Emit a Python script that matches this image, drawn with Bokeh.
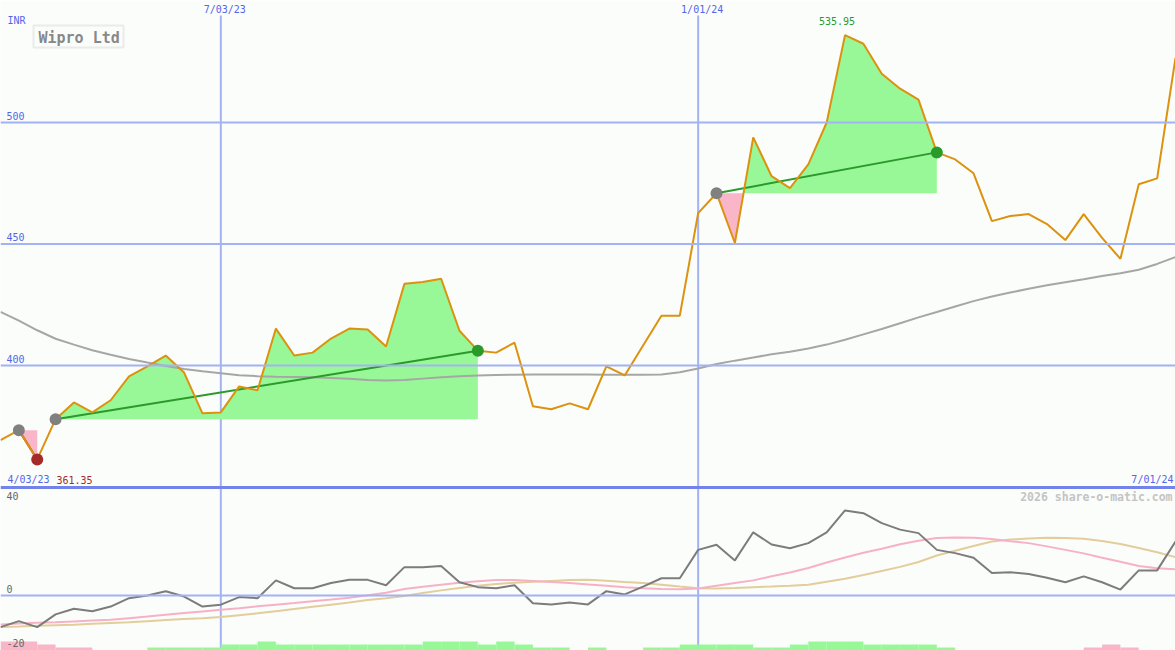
from bokeh.plotting import figure
from bokeh.models import Range1d, Span, Label, BoxAnnotation
from bokeh.embed import file_html
from bokeh.resources import INLINE

# ---- weekly data, Wipro Ltd (INR) ----
close = [369.3, 373.4, 361.35, 377.9, 384.8, 380.7, 385.7, 395.5, 399.6, 404.1,
         397.1, 380.3, 380.7, 391.4, 389.8, 415.2, 404.1, 405.3, 411.1, 415.2,
         414.8, 407.8, 433.6, 434.4, 435.7, 414.3, 406.1, 405.3, 409.4, 383.2,
         382.0, 384.4, 382.0, 399.6, 395.9, 408.2, 420.5, 420.5, 462.7, 470.9,
         450.4, 493.9, 477.9, 473.0, 482.8, 500.0, 535.95, 532.4, 520.1, 513.9,
         509.4, 487.7, 484.8, 479.1, 459.4, 461.5, 462.3, 458.2, 451.6, 462.3,
         452.5, 443.9, 474.6, 477.0, 526.6]

moving_avg = [422.1, 418.5, 414.5, 411.0, 408.6, 406.3, 404.4, 402.7, 401.2, 399.8,
              398.6, 397.6, 396.8, 396.0, 395.6, 395.4, 395.3, 395.2, 394.9, 394.5,
              394.0, 393.8, 394.0, 394.6, 395.2, 395.6, 395.9, 396.1, 396.2, 396.3,
              396.3, 396.3, 396.3, 396.2, 396.2, 396.2, 396.3, 397.2, 398.8, 400.6,
              402.0, 403.3, 404.6, 405.7, 407.0, 408.6, 410.6, 412.8, 415.0, 417.4,
              419.8, 422.0, 424.3, 426.5, 428.4, 430.0, 431.6, 433.0, 434.3, 435.5,
              436.8, 438.0, 439.4, 441.8, 444.6]

momentum = [-11.7, -9.5, -11.7, -7.0, -4.9, -5.8, -4.1, -1.0, 0.0, 1.6,
            -0.4, -4.1, -3.4, -0.6, -1.0, 5.6, 2.7, 2.7, 4.6, 5.8,
            5.8, 3.8, 10.5, 10.5, 10.9, 4.9, 3.1, 2.7, 3.8, -2.9,
            -3.3, -2.6, -3.3, 1.6, 0.4, 3.3, 6.4, 6.4, 16.9, 18.8,
            13.0, 23.4, 18.9, 17.5, 19.4, 23.4, 31.5, 30.5, 26.8, 24.4,
            23.1, 16.9, 15.7, 14.0, 8.3, 8.6, 8.0, 6.6, 4.9, 7.1,
            4.9, 2.2, 9.3, 9.3, 20.0]

momentum_fast = [-10.7, -10.4, -10.1, -9.9, -9.6, -9.3, -9.0, -8.4, -7.8, -7.1,
                 -6.5, -5.9, -5.3, -4.7, -4.0, -3.4, -2.8, -2.1, -1.5, -0.8,
                 0.1, 1.0, 2.4, 3.2, 4.0, 4.7, 5.3, 5.7, 5.7, 5.4,
                 5.0, 4.6, 4.1, 3.6, 3.1, 2.7, 2.4, 2.3, 2.6, 3.6,
                 4.6, 5.6, 7.1, 8.5, 10.2, 12.2, 14.1, 15.8, 17.3, 19.0,
                 20.3, 21.3, 21.5, 21.4, 20.9, 20.1, 19.4, 18.2, 16.9, 15.6,
                 14.0, 12.5, 10.9, 10.1, 9.7]

momentum_slow = [-11.7, -11.5, -11.2, -11.0, -10.8, -10.5, -10.2, -9.9, -9.5, -9.1,
                 -8.7, -8.4, -8.0, -7.3, -6.6, -5.8, -5.0, -4.2, -3.4, -2.6,
                 -1.7, -1.0, -0.2, 0.9, 1.9, 2.8, 3.6, 4.3, 4.7, 5.1,
                 5.4, 5.7, 5.8, 5.5, 5.0, 4.6, 4.0, 3.3, 2.7, 2.6,
                 2.8, 3.1, 3.3, 3.6, 4.0, 5.1, 6.2, 7.6, 9.1, 10.6,
                 12.4, 14.8, 16.6, 18.3, 20.0, 20.7, 21.1, 21.4, 21.3, 21.0,
                 20.2, 19.1, 17.6, 16.0, 14.2]

# weekly flow strength, one bar per week interval (+ buying / - selling)
flow = [-3, -3, -2, -1, -1, 0, 0, 0, 1, 1, 1, 1, 2, 2, 3, 2,
        2, 2, 2, 2, 2, 2, 2, 3, 3, 3, 2, 3, 2, 1, 1, 0,
        1, 0, 0, 1, 1, 2, 2, 2, 2, 1, 1, 2, 3, 3, 3, 2,
        2, 2, 2, 1, 0, 0, 0, 0, 0, 0, 0, -1, -2, -1, 0, 0]

# trend segments (week index of start and end point)
trend_starts = [1, 3, 39]
trend_ends = [2, 26, 51]

price_ticks = [500, 450, 400]
osc_ticks = [40, 0, -20]
date_weeks = [12, 38]
date_labels = ["7/03/23", "1/01/24"]
first_date = "4/03/23"
last_date = "7/01/24"
title = "Wipro Ltd"
currency = "INR"
credit = "2026 share-o-matic.com"

# ---- canvas geometry ----
W, H = 1175, 650
PX_PER_INR = 2.43          # price scale
Y_400 = 365                # pixel row of the 400 line
PRICE_TOP = 400 + Y_400 / PX_PER_INR
PRICE_BOTTOM = 400 - (H - Y_400) / PX_PER_INR
PANEL_SPLIT = 487          # pixel row of the panel divider
PX_PER_OSC = 2.7
Y_ZERO = 595
OSC_TOP = Y_ZERO / PX_PER_OSC
OSC_BOTTOM = -(H - Y_ZERO) / PX_PER_OSC
BAR_PX = 3                 # pixels per flow step
LIFT = 4                   # baseline correction for text

BG = "#fbfdfb"
GRID = "#a3b2f2"
DIVIDER = "#7383ea"
BLUE_TXT = "#5565ea"
ORANGE = "#dc920e"
FILL_UP = "#98f898"
FILL_DN = "#f9b6c9"
FONT = "DejaVu Sans Mono"

weeks = list(range(len(close)))

p = figure(width=W, height=H, output_backend="svg", toolbar_location=None,
           x_range=Range1d(0, len(close) - 1),
           y_range=Range1d(PRICE_BOTTOM, PRICE_TOP),
           x_axis_location=None, y_axis_location=None,
           min_border=0, outline_line_color=None,
           background_fill_color=BG, border_fill_color=BG)
p.grid.visible = False
p.extra_y_ranges = {"osc": Range1d(OSC_BOTTOM, OSC_TOP),
                    "flow": Range1d(0, H / BAR_PX)}

# horizontal grid lines
for t in price_ticks:
    p.add_layout(Span(location=t, dimension="width", line_color=GRID, line_width=2))
p.add_layout(Span(location=0, dimension="width", line_color=GRID, line_width=2,
                  y_range_name="osc"))

# vertical date lines, starting just below their labels
grid_top = PRICE_TOP - 15 / PX_PER_INR
for wk in date_weeks:
    p.segment(x0=wk, x1=wk, y0=PRICE_BOTTOM, y1=grid_top, line_color=GRID, line_width=2)

# panel divider
p.add_layout(Span(location=400 - (PANEL_SPLIT - Y_400) / PX_PER_INR, dimension="width",
                  line_color=DIVIDER, line_width=3))


def split_at_base(xs, ys, base):
    """Insert the crossings with the base level so fills switch colour cleanly."""
    out_x, hi, lo = [], [], []
    for k in range(len(xs)):
        if k > 0:
            a, b = ys[k - 1] - base, ys[k] - base
            if a * b < 0:
                t = a / (a - b)
                out_x.append(xs[k - 1] + t * (xs[k] - xs[k - 1]))
                hi.append(base)
                lo.append(base)
        out_x.append(xs[k])
        hi.append(max(ys[k], base))
        lo.append(min(ys[k], base))
    return out_x, hi, lo


# trend fills
for s, e in zip(trend_starts, trend_ends):
    xs = weeks[s:e + 1]
    ys = close[s:e + 1]
    base = close[s]
    fx, hi, lo = split_at_base(xs, ys, base)
    p.varea(x=fx, y1=[base] * len(fx), y2=hi, fill_color=FILL_UP)
    p.varea(x=fx, y1=lo, y2=[base] * len(fx), fill_color=FILL_DN)

# long moving average
p.line(weeks, moving_avg, line_color="#a6a6a6", line_width=2)

# trend lines
for s, e in zip(trend_starts, trend_ends):
    col = "#2a9a2a" if close[e] >= close[s] else "#a52a2a"
    p.line([s, e], [close[s], close[e]], line_color=col, line_width=2)

# price
p.line(weeks, close, line_color=ORANGE, line_width=2)

# trend markers
p.scatter(trend_starts, [close[i] for i in trend_starts], size=12,
          fill_color="#808080", line_color=None)
end_cols = ["#2a9a2a" if close[e] >= close[s] else "#a52a2a"
            for s, e in zip(trend_starts, trend_ends)]
p.scatter(trend_ends, [close[i] for i in trend_ends], size=12,
          fill_color=end_cols, line_color=None)

# lower panel: flow bars
p.vbar(x=[i + 0.5 for i, f in enumerate(flow) if f != 0], width=1.0,
       bottom=0, top=[abs(f) for f in flow if f != 0],
       fill_color=[FILL_UP if f > 0 else FILL_DN for f in flow if f != 0],
       line_color=None, y_range_name="flow")

# lower panel: momentum and its averages
p.line(weeks, momentum_slow, line_color="#e2cd9b", line_width=2, y_range_name="osc")
p.line(weeks, momentum_fast, line_color="#f7b1c7", line_width=2, y_range_name="osc")
p.line(weeks, momentum, line_color="#7c7c7c", line_width=2, y_range_name="osc")


# ---- texts ----
def lab(text, x, y, color, size="10px", align="left", bold=False, y_offset=0, **kw):
    p.add_layout(Label(x=x, y=y, text=text, text_color=color, text_font=FONT,
                       text_font_size=size, text_align=align,
                       text_baseline="alphabetic", y_offset=y_offset + LIFT,
                       text_font_style="bold" if bold else "normal", **kw))


for t in price_ticks:
    lab(str(t), 6, t, BLUE_TXT, x_units="screen", y_offset=3)
lab(currency, 7, H - 24, BLUE_TXT, x_units="screen", y_units="screen")

for wk, txt in zip(date_weeks, date_labels):
    lab(txt, wk, H - 12.5, BLUE_TXT, align="center", y_units="screen", x_offset=4)
lab(first_date, 7, H - 483, BLUE_TXT, x_units="screen", y_units="screen")
lab(last_date, W - 2, H - 483, BLUE_TXT, align="right", x_units="screen", y_units="screen")

low_i = min(range(len(close)), key=lambda i: close[i])
high_i = max(range(len(close)), key=lambda i: close[i])
lab(f"{close[low_i]:.2f}", 56, H - 483, "#a52a2a", x_units="screen", y_units="screen")
lab(f"{close[high_i]:.2f}", high_i, close[high_i], "#2a9a2a", align="center",
    x_offset=-8, y_offset=10)

for t in osc_ticks:
    off = -12 if t == osc_ticks[0] else 3
    lab(str(t), 6, t, "#666666", x_units="screen", y_range_name="osc", y_offset=off)

lab(credit, W - 3, H - 500, "#c4c4c4", size="11.5px", align="right", bold=True,
    x_units="screen", y_units="screen")

# name box
p.add_layout(BoxAnnotation(left=33, right=123, top=H - 25, bottom=H - 47,
                           left_units="screen", right_units="screen",
                           top_units="screen", bottom_units="screen",
                           fill_color=BG, fill_alpha=1.0,
                           line_color="#c2c2c2", line_width=2))
lab(title, 38, H - 41, "#888888", size="15px", bold=True,
    x_units="screen", y_units="screen")

open("out.html", "w").write(file_html(p, INLINE))
